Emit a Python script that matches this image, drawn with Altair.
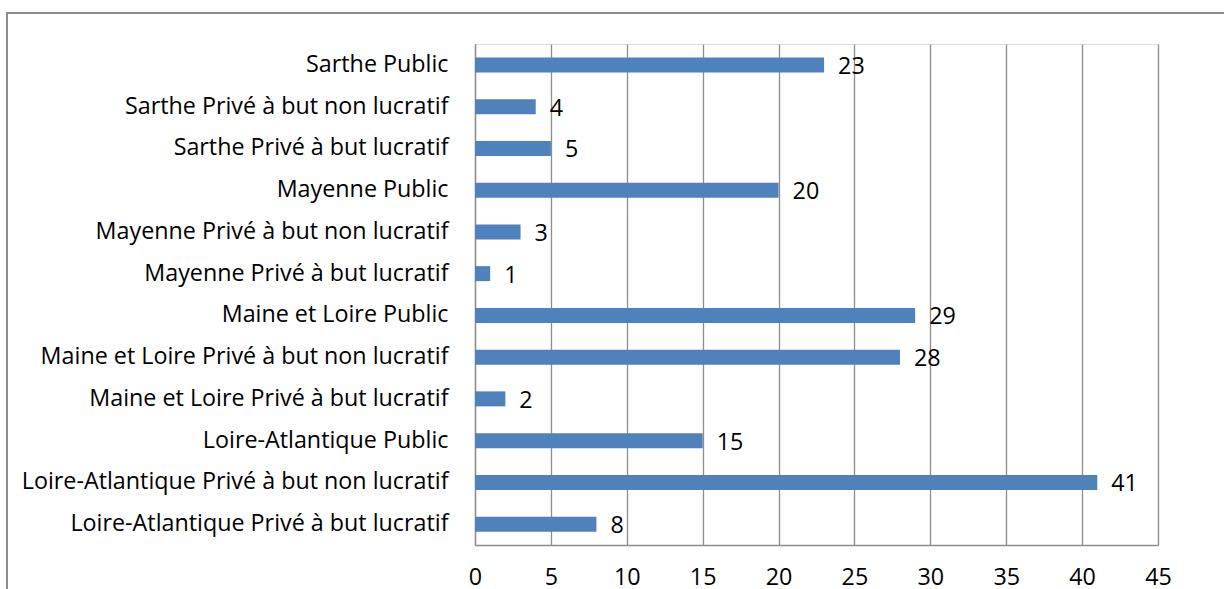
import altair as alt
import pandas as pd

categories = [
    "Sarthe Public",
    "Sarthe Privé à but non lucratif",
    "Sarthe Privé à but lucratif",
    "Mayenne Public",
    "Mayenne Privé à but non lucratif",
    "Mayenne Privé à but lucratif",
    "Maine et Loire Public",
    "Maine et Loire Privé à but non lucratif",
    "Maine et Loire Privé à but lucratif",
    "Loire-Atlantique Public",
    "Loire-Atlantique Privé à but non lucratif",
    "Loire-Atlantique Privé à but lucratif",
]
values = [23, 4, 5, 20, 3, 1, 29, 28, 2, 15, 41, 8]
x_ticks = [0, 5, 10, 15, 20, 25, 30, 35, 40, 45]

df = pd.DataFrame({"categorie": categories, "valeur": values})

FONT = "Open Sans"
FSIZE = 23.3
GRID = "#8c8c8c"

y_enc = alt.Y(
    "categorie:N",
    sort=categories,
    title=None,
    axis=alt.Axis(
        ticks=False,
        labelFontSize=FSIZE,
        labelFont=FONT,
        labelColor="black",
        labelPadding=27,
        labelLimit=500,
        domainColor=GRID,
        domainWidth=1.3,
    ),
)
x_enc = alt.X(
    "valeur:Q",
    title=None,
    scale=alt.Scale(domain=[0, 45], nice=False),
    axis=alt.Axis(
        values=x_ticks,
        ticks=False,
        labelFontSize=FSIZE,
        labelFont=FONT,
        labelColor="black",
        labelPadding=21,
        grid=True,
        gridColor=GRID,
        gridWidth=1.3,
        domainColor=GRID,
        domainWidth=1.3,
        labelFlush=False,
    ),
)

bars = alt.Chart(df).mark_bar(color="#4f81bd", size=15).encode(x=x_enc, y=y_enc)

labels = alt.Chart(df).mark_text(
    align="left", baseline="middle", dx=14, dy=2, fontSize=FSIZE, font=FONT, color="black"
).encode(x="valeur:Q", y=alt.Y("categorie:N", sort=categories), text="valeur:Q")

# outer frame around the whole chart
frame = alt.Chart(df).mark_rect(
    fill=None, stroke=GRID, strokeWidth=1.5
).encode(
    x=alt.value(-468), x2=alt.value(780), y=alt.value(-31), y2=alt.value(600)
)

chart = (
    alt.layer(frame, bars, labels)
    .properties(
        width=683,
        height=501,
        autosize=alt.AutoSizeParams(type="none"),
        padding={"left": 475, "top": 44, "right": 66, "bottom": 44},
    )
    .configure_view(stroke=None)
    .configure(background="white")
)

chart.save("out.html", embed_options={"renderer": "svg", "actions": False})
